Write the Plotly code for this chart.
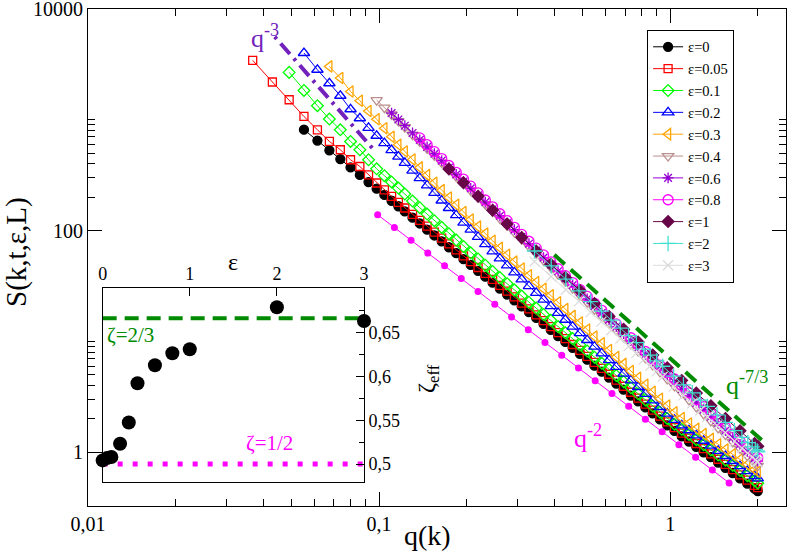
import plotly.graph_objects as go

FONT = "Liberation Serif, Times New Roman, serif"

# q(k) on the L=1024 lattice: first k values one by one, then a dense set up to q=2
q_lattice = [0.0368, 0.0430, 0.0491, 0.0552, 0.0614, 0.0675, 0.0736, 0.0798, 0.0859, 0.0920,
             0.0981, 0.1043, 0.1104, 0.1165, 0.1226]
q_dense = [0.1303, 0.1380, 0.1462, 0.1549, 0.1641, 0.1738, 0.1841, 0.1950, 0.2065, 0.2188,
           0.2317, 0.2455, 0.2600, 0.2754, 0.2917, 0.3090, 0.3273, 0.3467, 0.3673, 0.3890,
           0.4121, 0.4365, 0.4624, 0.4898, 0.5188, 0.5495, 0.5821, 0.6166, 0.6531, 0.6918,
           0.7328, 0.7762, 0.8222, 0.8710, 0.9226, 0.9772, 1.035, 1.096, 1.161, 1.230,
           1.303, 1.380, 1.462, 1.549, 1.641, 1.738, 1.841, 1.950, 2.000]
q_grid = q_lattice + q_dense
# eps=1 sits on a coarser lattice, eps=2 and eps=3 on a coarser one still
q_eps1 = [0.1738, 0.1950, 0.2188, 0.2455, 0.2754, 0.3090, 0.3467, 0.3890, 0.4365, 0.4898,
          0.5495, 0.6166, 0.6918, 0.7762, 0.8710, 0.9772, 1.096, 1.230, 1.380, 1.549,
          1.738, 1.950, 2.000]
q_coarse = [0.3419, 0.3902, 0.4382, 0.4860, 0.5334, 0.5806, 0.6274, 0.6738, 0.7198, 0.7654,
            0.8105, 0.8551, 0.8992, 0.9428, 1.0282, 1.1111, 1.1914, 1.2688, 1.3431, 1.4485,
            1.5460, 1.6629, 1.7638, 1.8478, 1.9139, 1.9616, 1.9904, 2.0]

s_eps0 = [815, 649, 531, 442, 372, 318, 274, 239, 210, 186, 166, 149,
          131, 116, 102, 90.4, 80.0, 70.8, 62.7, 55.3, 49.0, 43.4, 38.4, 33.9, 30.0, 26.5, 23.5,
          20.7, 18.4, 16.3, 14.4, 12.7, 11.2, 9.91, 8.75, 7.74, 6.84, 6.04, 5.33, 4.72, 4.17,
          3.68, 3.25, 2.88, 2.54, 2.24, 1.98, 1.75, 1.56, 1.39, 1.25, 1.12, 1.00, 0.902, 0.807,
          0.724, 0.650, 0.582, 0.522, 0.469, 0.447]
s_eps005 = [3436, 2193, 1517, 1072, 813, 638, 537, 436, 379, 319, 269, 233, 204, 180, 160,
            140, 124, 110, 96.8, 85.7, 75.9, 67.1, 59.3, 52.5, 46.5, 41.1, 36.3, 32.1, 28.4, 25.2,
            22.2, 19.7, 17.4, 15.4, 13.6, 12.0, 10.6, 9.38, 8.30, 7.33, 6.47, 5.71, 5.06, 4.47,
            3.94, 3.48, 3.08, 2.72, 2.40, 2.12, 1.88, 1.67, 1.49, 1.34, 1.20, 1.08, 0.966, 0.865,
            0.776, 0.697, 0.624, 0.560, 0.502, 0.479]
s_eps01 = [2679, 1841, 1340, 1016, 813, 638, 537, 436, 361, 313, 275, 242, 214,
           185, 161, 141, 123, 107, 93.8, 82.2, 71.9, 63.1, 55.5, 48.8, 42.8, 37.7, 33.2, 29.2,
           25.7, 22.6, 20.0, 17.5, 15.5, 13.6, 12.0, 10.6, 9.31, 8.20, 7.21, 6.35, 5.60, 4.93,
           4.34, 3.82, 3.37, 2.96, 2.61, 2.30, 2.02, 1.79, 1.61, 1.45, 1.30, 1.17, 1.05, 0.944,
           0.849, 0.762, 0.684, 0.614, 0.552, 0.526]
s_eps02 = [4009, 2831, 2138, 1648, 1245, 1033, 847, 718, 617, 533, 466, 409,
           348, 298, 256, 219, 187, 160, 138, 118, 102, 87.7, 75.5, 65.0, 56.1, 48.5, 42.0,
           36.3, 31.5, 27.4, 23.8, 20.8, 18.1, 15.7, 13.6, 11.9, 10.3, 8.97, 7.80, 6.79, 5.90,
           5.13, 4.46, 3.88, 3.37, 2.94, 2.56, 2.23, 1.96, 1.75, 1.58, 1.42, 1.27, 1.15, 1.03,
           0.925, 0.834, 0.750, 0.676, 0.610, 0.582]
s_eps03 = [3034, 2382, 1803, 1486, 1199, 1012, 839, 703, 596, 518,
           439, 372, 317, 270, 232, 199, 171, 147, 126, 109, 94.0, 80.9, 70.0, 60.5, 52.5, 45.5,
           39.5, 34.4, 29.9, 26.1, 22.6, 19.6, 17.0, 14.8, 12.8, 11.1, 9.62, 8.36, 7.24, 6.27,
           5.42, 4.70, 4.06, 3.52, 3.04, 2.64, 2.30, 2.04, 1.82, 1.63, 1.46, 1.32, 1.18, 1.06,
           0.957, 0.861, 0.776, 0.700, 0.668]
s_eps04 = [1503, 1288, 1117, 975, 859,
           736, 637, 551, 476, 412, 356, 308, 267, 231, 200, 173, 149, 129, 112, 96.6, 83.6,
           72.3, 62.5, 54.1, 46.8, 40.5, 35.0, 30.3, 26.2, 22.6, 19.6, 16.9, 14.7, 12.7, 11.0,
           9.48, 8.20, 7.10, 6.14, 5.31, 4.59, 3.97, 3.44, 2.97, 2.57, 2.22, 1.92, 1.66, 1.44,
           1.24, 1.08, 0.931, 0.805, 0.755]
s_eps06 = [1151, 1007, 885,
           761, 659, 570, 494, 428, 371, 321, 278, 241, 208, 181, 156, 136, 117, 102, 88.1,
           76.2, 66.1, 57.1, 49.5, 43.0, 37.2, 32.2, 27.9, 24.2, 20.9, 18.1, 15.7, 13.6, 11.8,
           10.2, 8.83, 7.64, 6.62, 5.73, 4.97, 4.31, 3.72, 3.23, 2.79, 2.42, 2.09, 1.82, 1.57,
           1.36, 1.18, 1.02, 0.885, 0.832]
s_eps08 = [687, 596, 516, 447, 387, 336, 291, 252, 219, 189, 164, 142, 123, 107, 92.5, 80.2,
           69.5, 60.3, 52.2, 45.3, 39.2, 34.0, 29.4, 25.5, 22.1, 19.1, 16.6, 14.4, 12.5, 10.8,
           9.35, 8.11, 7.03, 6.10, 5.28, 4.58, 3.96, 3.44, 2.98, 2.58, 2.24, 1.94, 1.68, 1.46,
           1.26, 1.09, 0.947, 0.891]
s_eps1 = [360, 271, 204, 153, 115, 86.5, 65.6, 49.7, 37.8, 28.8, 22.0, 16.8, 12.9, 9.86,
          7.55, 5.78, 4.45, 3.42, 2.63, 2.02, 1.56, 1.20, 1.13]
s_eps2 = [65.5, 48.0, 36.5, 28.6, 22.9, 18.8, 15.6, 13.2, 11.3, 9.77, 8.53, 7.52, 6.68, 5.97,
          4.86, 4.06, 3.44, 2.96, 2.59, 2.17, 1.86, 1.57, 1.36, 1.22, 1.12, 1.06, 1.03, 1.01]
s_eps3 = [52.6, 38.5, 29.3, 23.0, 18.4, 15.1, 12.6, 10.6, 9.08, 7.85, 6.85, 6.04, 5.37, 4.80,
          3.91, 3.26, 2.76, 2.38, 2.08, 1.74, 1.50, 1.26, 1.09, 0.982, 0.904, 0.853, 0.824, 0.815]

# guide lines
q_m3 = [0.0438, 0.0965]
s_m3 = [5623, 526]
q_m73 = [0.400, 2.073]
s_m73 = [60.5, 1.273]
q_m2 = [0.0989, 0.1129, 0.1288, 0.1470, 0.1679, 0.1916, 0.2188, 0.2497, 0.2851, 0.3255, 0.3715,
        0.4241, 0.4842, 0.5527, 0.6310, 0.7203, 0.8222, 0.9386, 1.0715, 1.2232, 1.3964, 1.5941]
s_m2 = [139.0, 106.6, 81.8, 62.7, 48.1, 36.9, 28.3, 21.7, 16.65, 12.77, 9.79,
        7.51, 5.76, 4.42, 3.39, 2.60, 1.99, 1.53, 1.17, 0.900, 0.690, 0.529]

# inset: effective roughness exponent
eps_vals = [0, 0.05, 0.1, 0.2, 0.3, 0.4, 0.6, 0.8, 1, 2, 3]
zeta_eff = [0.5042, 0.5068, 0.508, 0.5232, 0.5475, 0.5924, 0.6129, 0.6266, 0.6312, 0.6791, 0.6635]
eps_range = [0, 3]
zeta_kpz = [2 / 3, 2 / 3]
zeta_ew = [0.5, 0.5]

# (label, q values, S values, colour, symbol, size)
series = [
    ("ε=0", q_grid[3:], s_eps0, "black", "circle", 9),
    ("ε=0.05", q_grid[0:], s_eps005, "#ff0000", "square-open", 8),
    ("ε=0.1", q_grid[2:], s_eps01, "#00ff00", "diamond-open", 9),
    ("ε=0.2", q_grid[3:], s_eps02, "#0000ff", "triangle-up-open", 10),
    ("ε=0.3", q_grid[5:], s_eps03, "#ffa500", "triangle-left-open", 10),
    ("ε=0.4", q_grid[10:], s_eps04, "#bc8f8f", "triangle-down-open", 10),
    ("ε=0.6", q_grid[12:], s_eps06, "#9400d3", "asterisk-open", 9),
    ("ε=0.8", q_grid[16:], s_eps08, "#ff00ff", "circle-open", 10),
    ("ε=1", q_eps1, s_eps1, "#670748", "diamond", 9),
    ("ε=2", q_coarse, s_eps2, "#40e0d0", "cross-thin-open", 11),
    ("ε=3", q_coarse, s_eps3, "#dcdcdc", "x-thin-open", 10),
]

fig = go.Figure()

for name, q, s, color, symbol, size in series:
    fig.add_trace(go.Scatter(
        x=q, y=s, name=name, mode="lines+markers",
        line=dict(color=color, width=1),
        marker=dict(symbol=symbol, size=size, color=color, line=dict(color=color, width=1.3)),
    ))

fig.add_trace(go.Scatter(x=q_m3, y=s_m3, mode="lines", showlegend=False,
                         line=dict(color="#7221bc", width=4, dash="3px,6px,14px,6px")))
fig.add_trace(go.Scatter(x=q_m73, y=s_m73, mode="lines", showlegend=False,
                         line=dict(color="#008b00", width=4, dash="14px,8px")))
fig.add_trace(go.Scatter(x=q_m2, y=s_m2, mode="lines+markers", showlegend=False,
                         line=dict(color="#ff00ff", width=1),
                         marker=dict(symbol="circle", size=7, color="#ff00ff")))

# inset traces
fig.add_trace(go.Scatter(x=eps_range, y=zeta_kpz, xaxis="x2", yaxis="y2", mode="lines", showlegend=False,
                         line=dict(color="#008b00", width=4, dash="14px,8px")))
fig.add_trace(go.Scatter(x=eps_range, y=zeta_ew, xaxis="x2", yaxis="y2", mode="lines", showlegend=False,
                         line=dict(color="#ff00ff", width=5, dash="5px,10px")))
fig.add_trace(go.Scatter(x=eps_vals, y=zeta_eff, xaxis="x2", yaxis="y2", mode="markers", showlegend=False,
                         cliponaxis=False, marker=dict(symbol="circle", size=14, color="black")))

tick_font = dict(family=FONT, size=20, color="black")


def ann(text, x, y, size, color="black", angle=0):
    return dict(text=text, x=x, y=y, xref="paper", yref="paper", showarrow=False,
                textangle=angle, xanchor="center", yanchor="middle",
                font=dict(family=FONT, size=size, color=color))


fig.update_layout(
    width=789, height=555,
    margin=dict(l=88, r=3, t=9, b=49),
    paper_bgcolor="white", plot_bgcolor="white",
    font=dict(family=FONT, color="black"),
    xaxis=dict(
        type="log", range=[-2, 0.398], domain=[0, 1], automargin=False,
        showline=True, linecolor="black", linewidth=1, mirror="ticks",
        ticks="inside", ticklen=14, tickcolor="black", ticklabeloverflow="allow",
        tickvals=[0.01, 0.1, 1], ticktext=["0,01", "0,1", "1"], tickfont=tick_font,
        minor=dict(ticks="inside", ticklen=7, tickcolor="black",
                   tickvals=[0.02, 0.03, 0.04, 0.05, 0.06, 0.07, 0.08, 0.09,
                             0.2, 0.3, 0.4, 0.5, 0.6, 0.7, 0.8, 0.9, 2]),
        showgrid=False, zeroline=False,
    ),
    yaxis=dict(
        type="log", range=[-0.485, 4], domain=[0, 1], automargin=False,
        showline=True, linecolor="black", linewidth=1, mirror="ticks",
        ticks="inside", ticklen=14, tickcolor="black", ticklabeloverflow="allow",
        tickvals=[1, 100, 10000], ticktext=["1", "100", "10000"], tickfont=tick_font,
        minor=dict(ticks="inside", ticklen=7, tickcolor="black",
                   tickvals=[2, 3, 4, 5, 6, 7, 8, 9, 10, 200, 300, 400, 500, 600, 700, 800, 900, 1000]),
        showgrid=False, zeroline=False,
    ),
    xaxis2=dict(
        anchor="y2", domain=[0.021, 0.3954], range=[0, 3], side="top", automargin=False,
        showline=True, linecolor="black", linewidth=1, mirror=True,
        ticks="inside", ticklen=8, tickcolor="black",
        tickvals=[0, 1, 2, 3], tickfont=dict(family=FONT, size=18),
        showgrid=False, zeroline=False,
    ),
    yaxis2=dict(
        anchor="x2", domain=[0.0483, 0.4392], range=[0.4795, 0.7015], side="right", automargin=False,
        showline=True, linecolor="black", linewidth=1, mirror=True,
        ticks="inside", ticklen=8, tickcolor="black",
        tickvals=[0.5, 0.55, 0.6, 0.65], ticktext=["0,5", "0,55", "0,6", "0,65"],
        tickfont=dict(family=FONT, size=18),
        minor=dict(ticks="inside", ticklen=5, tickcolor="black", tickvals=[0.525, 0.575, 0.625, 0.675]),
        showgrid=False, zeroline=False,
    ),
    legend=dict(
        x=0.801, y=0.958, xanchor="left", yanchor="top",
        bgcolor="white", bordercolor="black", borderwidth=1,
        font=dict(family=FONT, size=14.5), tracegroupgap=0, itemwidth=30,
    ),
    annotations=[
        ann("q(k)", 0.487, -0.060, 28),
        ann("S(k,t,ε,L)", -0.1032, 0.511, 29, angle=-90),
        ann("ε", 0.2077, 0.491, 24),
        ann("ζ<sub>eff</sub>", 0.487, 0.2575, 24, angle=-90),
        ann("q<sup>-3</sup>", 0.2536, 0.9437, 26, "#7221bc"),
        ann("q<sup>-7/3</sup>", 0.944, 0.247, 26, "#008b00"),
        ann("q<sup>-2</sup>", 0.716, 0.139, 26, "#ff00ff"),
        ann("ζ=2/3", 0.0616, 0.344, 21, "#008b00"),
        ann("ζ=1/2", 0.2607, 0.1268, 21, "#ff00ff"),
    ],
)

# the page body has a default 8px margin; drop it so the figure fills the window
fig.write_html("out.html", config={"displayModeBar": False},
               post_script="document.body.style.margin = '0';")
